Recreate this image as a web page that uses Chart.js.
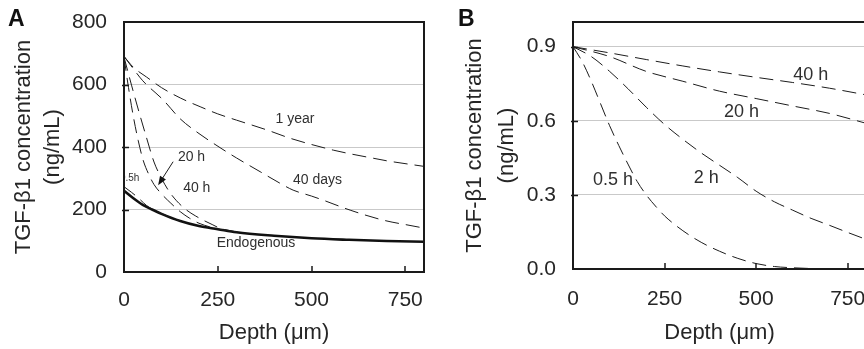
<!DOCTYPE html>
<html>
<head>
<meta charset="utf-8">
<script src="https://cdn.jsdelivr.net/npm/chart.js@4/dist/chart.umd.min.js"></script>
<style>
  html, body { margin: 0; padding: 0; background: #fff; overflow: hidden; }
  #wrap { position: relative; width: 864px; height: 349px; overflow: hidden; }
  canvas { position: absolute; top: 0; }
  #chartA { left: 0; }
  #chartB { left: 432px; }
  .panel { position: absolute; font: bold 23px 'Liberation Sans', Arial, sans-serif; line-height: 23px; color: #111; }
</style>
</head>
<body>
<div id="wrap">
  <canvas id="chartA" width="432" height="349"></canvas>
  <canvas id="chartB" width="450" height="349"></canvas>
  <div class="panel" style="left:8px; top:7px">A</div>
  <div class="panel" style="left:458px; top:7px">B</div>
</div>
<script>
// tick values
const depthTicks = [0, 250, 500, 750];
const concTicksA = [0, 200, 400, 600, 800];
const concTicksB = [0, 0.3, 0.6, 0.9];

// ---- Panel A : TGF-b1 (ng/mL) vs depth (um) ----
const endoDepth = [0, 25, 50, 75, 100, 150, 200, 250, 300, 400, 500, 600, 700, 800];
const endoConc  = [260, 236, 215, 200, 186, 163, 147, 137, 127, 116, 108, 103, 99, 97];

const a05Depth = [0, 20, 40, 60, 80, 100, 150];
const a05Conc  = [273, 255, 235, 213, 198, 187, 163];

const a20Depth = [0, 12, 25, 38, 51, 65, 80, 100, 125, 150, 175, 200, 250, 300];
const a20Conc  = [688, 590, 497, 420, 358, 315, 280, 250, 220, 193, 172, 156, 138, 127];

const a40Depth = [0, 20, 40, 60, 80, 100, 118, 140, 167, 190, 211, 235, 256, 280, 320];
const a40Conc  = [688, 598, 512, 430, 352, 300, 262, 228, 198, 180, 166, 152, 140, 133, 124];

const dayDepth = [0, 25, 50, 105, 150, 200, 256, 300, 363, 416, 451, 500, 531, 603, 691, 789, 800];
const dayConc  = [690, 650, 612, 550, 490, 443, 398, 365, 321, 284, 262, 243, 230, 198, 166, 143, 140];

const yearDepth = [0, 25, 60, 100, 150, 203, 250, 300, 380, 443, 500, 558, 600, 665, 700, 800];
const yearConc  = [690, 655, 624, 590, 557, 529, 506, 486, 455, 428, 408, 390, 379, 364, 356, 338];

// ---- Panel B : TGF-b1 (ng/mL) vs depth (um) ----
const b05Depth = [0, 25, 50, 75, 100, 125, 150, 175, 200, 225, 250, 300, 350, 400, 450, 500, 550, 600, 650, 700, 800];
const b05Conc  = [0.9, 0.84, 0.76, 0.67, 0.58, 0.50, 0.425, 0.355, 0.30, 0.255, 0.215, 0.155, 0.108, 0.072, 0.043, 0.022, 0.010, 0.005, 0.002, 0.001, 0];

const b2Depth = [0, 50, 100, 150, 200, 250, 300, 350, 400, 450, 500, 550, 600, 650, 700, 750, 800];
const b2Conc  = [0.9, 0.86, 0.80, 0.73, 0.655, 0.585, 0.525, 0.47, 0.42, 0.37, 0.315, 0.272, 0.238, 0.205, 0.177, 0.148, 0.12];

const b20Depth = [0, 100, 200, 300, 400, 500, 600, 700, 800];
const b20Conc  = [0.9, 0.86, 0.80, 0.76, 0.72, 0.69, 0.66, 0.63, 0.59];

const b40Depth = [0, 100, 200, 300, 400, 500, 600, 700, 800];
const b40Conc  = [0.9, 0.875, 0.848, 0.822, 0.798, 0.776, 0.755, 0.732, 0.705];

const TEXT = '#262626';
const FONT = "'Liberation Sans', Arial, sans-serif";
Chart.defaults.font.family = FONT;
Chart.defaults.color = TEXT;

function pts(xs, ys) {
    return xs.map((x, i) => ({ x: x, y: ys[i] }));
}

function dashed(label, xs, ys) {
    return {
        label: label,
        data: pts(xs, ys),
        borderColor: '#1c1c1c',
        borderWidth: 1,
        borderDash: [14, 7],
        pointRadius: 0,
        cubicInterpolationMode: 'monotone',
        fill: false
    };
}

// labels, arrow, frame box and inward tick marks
const framePlugin = {
    id: 'frame',
    beforeDatasetsDraw(chart, args, opts) {
        const { ctx, chartArea: a, scales: { x, y } } = chart;
        ctx.save();
        ctx.beginPath();
        ctx.rect(a.left, a.top, a.right - a.left, a.bottom - a.top);
        ctx.clip();
        ctx.fillStyle = '#303030';
        ctx.textAlign = 'center';
        ctx.textBaseline = 'middle';
        (opts.notes || []).forEach(n => {
            ctx.font = n.size + 'px ' + FONT;
            ctx.fillText(n.text, x.getPixelForValue(n.x), y.getPixelForValue(n.y));
        });
        if (opts.arrow) {
            const r = opts.arrow;
            const x1 = x.getPixelForValue(r.from[0]), y1 = y.getPixelForValue(r.from[1]);
            const x2 = x.getPixelForValue(r.to[0]), y2 = y.getPixelForValue(r.to[1]);
            const ang = Math.atan2(y2 - y1, x2 - x1);
            ctx.strokeStyle = '#1c1c1c';
            ctx.lineWidth = 1;
            ctx.beginPath();
            ctx.moveTo(x1, y1);
            ctx.lineTo(x2 - 6 * Math.cos(ang), y2 - 6 * Math.sin(ang));
            ctx.stroke();
            ctx.fillStyle = '#111';
            ctx.beginPath();
            ctx.moveTo(x2, y2);
            ctx.lineTo(x2 - 9 * Math.cos(ang) + 3.5 * Math.sin(ang), y2 - 9 * Math.sin(ang) - 3.5 * Math.cos(ang));
            ctx.lineTo(x2 - 9 * Math.cos(ang) - 3.5 * Math.sin(ang), y2 - 9 * Math.sin(ang) + 3.5 * Math.cos(ang));
            ctx.closePath();
            ctx.fill();
        }
        ctx.restore();
    },
    afterDatasetsDraw(chart) {
        const { ctx, chartArea: a, scales: { x, y } } = chart;
        ctx.save();
        ctx.strokeStyle = '#1a1a1a';
        ctx.lineWidth = 1.5;
        ctx.beginPath();
        x.ticks.forEach(t => {
            if (t.value <= x.min || t.value >= x.max) return;
            const px = Math.round(x.getPixelForValue(t.value));
            ctx.moveTo(px, a.bottom);
            ctx.lineTo(px, a.bottom - 6);
        });
        y.ticks.forEach(t => {
            if (t.value <= y.min || t.value >= y.max) return;
            const py = Math.round(y.getPixelForValue(t.value)) + 0.5;
            ctx.moveTo(a.left - 2, py);
            ctx.lineTo(a.left + 5, py);
        });
        ctx.stroke();
        ctx.lineWidth = 2;
        ctx.strokeRect(a.left, a.top, a.right - a.left, a.bottom - a.top);
        ctx.restore();
    }
};

function makeOptions(o) {
    return {
        responsive: false,
        animation: false,
        layout: { padding: { top: 22, right: o.padRight, left: 0, bottom: 0 } },
        plugins: {
            legend: { display: false },
            tooltip: { enabled: false },
            frame: { notes: o.notes, arrow: o.arrow }
        },
        scales: {
            x: {
                type: 'linear',
                min: 0, max: 800,
                afterBuildTicks: s => { s.ticks = depthTicks.map(v => ({ value: v })); },
                ticks: { padding: o.xPad, maxRotation: 0, autoSkip: false, color: TEXT, font: { size: 21 } },
                grid: { display: false, drawTicks: false },
                border: { display: false },
                title: { display: true, text: 'Depth (\u03bcm)', color: TEXT, font: { size: 22 }, padding: { top: 0, bottom: 3 } },
                afterFit(s) {
                    s.height = o.xHeight;
                    s.paddingLeft = 0;
                    s.paddingRight = 0;
                }
            },
            y: {
                type: 'linear',
                min: 0, max: o.yMax,
                afterBuildTicks: s => { s.ticks = o.yTicks.map(v => ({ value: v })); },
                ticks: {
                    padding: 17, color: TEXT, font: { size: 21 },
                    callback: v => v.toFixed(o.yDec)
                },
                grid: {
                    drawTicks: false,
                    lineWidth: 1,
                    color: c => (c.tick && c.tick.value > 0.001 && c.tick.value < o.yMax - 0.001) ? '#c9c9c9' : 'rgba(0,0,0,0)'
                },
                border: { display: false },
                title: {
                    display: true,
                    text: ['TGF-\u03b21 concentration', '(ng/mL)'],
                    color: TEXT,
                    font: { size: 22, lineHeight: o.titleLH },
                    padding: { top: o.titlePad, bottom: 0 }
                },
                afterFit(s) {
                    s.width = o.yWidth;
                    s.paddingTop = 0;
                    s.paddingBottom = 0;
                }
            }
        }
    };
}

new Chart(document.getElementById('chartA'), {
    type: 'line',
    data: {
        datasets: [
            dashed('1 year', yearDepth, yearConc),
            dashed('40 days', dayDepth, dayConc),
            dashed('40 h', a40Depth, a40Conc),
            dashed('20 h', a20Depth, a20Conc),
            dashed('0.5h', a05Depth, a05Conc),
            {
                label: 'Endogenous',
                data: pts(endoDepth, endoConc),
                borderColor: '#111',
                borderWidth: 2.6,
                pointRadius: 0,
                cubicInterpolationMode: 'monotone',
                fill: false
            }
        ]
    },
    options: makeOptions({
        padRight: 8, xPad: 16, xHeight: 77, yWidth: 124,
        yMax: 800, yTicks: concTicksA, yDec: 0, titleLH: 1.29, titlePad: 10,
        notes: [
            { text: '1 year', x: 456, y: 490, size: 14 },
            { text: '40 days', x: 516, y: 294, size: 14 },
            { text: '20 h', x: 180, y: 369, size: 14 },
            { text: '40 h', x: 194, y: 268, size: 14 },
            { text: '0.5h', x: 15, y: 300, size: 10 },
            { text: 'Endogenous', x: 352, y: 93, size: 14 }
        ],
        arrow: { from: [131, 353], to: [91, 278] }
    }),
    plugins: [framePlugin]
});

new Chart(document.getElementById('chartB'), {
    type: 'line',
    data: {
        datasets: [
            dashed('40 h', b40Depth, b40Conc),
            dashed('20 h', b20Depth, b20Conc),
            dashed('2 h', b2Depth, b2Conc),
            dashed('0.5 h', b05Depth, b05Conc)
        ]
    },
    options: makeOptions({
        padRight: 16, xPad: 18, xHeight: 80, yWidth: 141,
        yMax: 1.0, yTicks: concTicksB, yDec: 1, titleLH: 1.44, titlePad: 27,
        notes: [
            { text: '40 h', x: 649, y: 0.785, size: 18 },
            { text: '20 h', x: 460, y: 0.636, size: 18 },
            { text: '2 h', x: 364, y: 0.368, size: 18 },
            { text: '0.5 h', x: 109, y: 0.36, size: 18 }
        ]
    }),
    plugins: [framePlugin]
});
</script>
</body>
</html>
